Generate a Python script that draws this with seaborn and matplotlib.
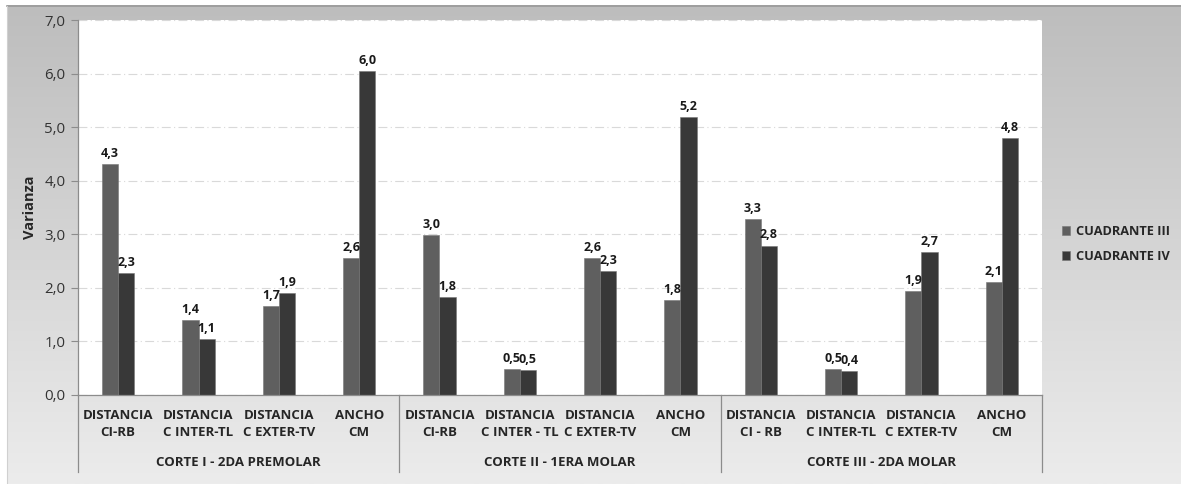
import numpy as np
import pandas as pd
import matplotlib
matplotlib.use("Agg")
import matplotlib.pyplot as plt
import matplotlib.transforms as mtransforms
from matplotlib.ticker import FuncFormatter
import seaborn as sns

# Corte groups and the measurements taken in each one
cortes = ["CORTE I - 2DA PREMOLAR", "CORTE II - 1ERA MOLAR", "CORTE III - 2DA MOLAR"]
medidas = [
    ["DISTANCIA\nCI-RB", "DISTANCIA\nC INTER-TL", "DISTANCIA\nC EXTER-TV", "ANCHO\nCM"],
    ["DISTANCIA\nCI-RB", "DISTANCIA\nC INTER - TL", "DISTANCIA\nC EXTER-TV", "ANCHO\nCM"],
    ["DISTANCIA\nCI - RB", "DISTANCIA\nC INTER-TL", "DISTANCIA\nC EXTER-TV", "ANCHO\nCM"],
]
cuadrantes = ["CUADRANTE III", "CUADRANTE IV"]

# Variance per measurement (in corte order)
cuadrante_iii = [4.31, 1.40, 1.66, 2.56, 2.98, 0.48, 2.56, 1.77, 3.28, 0.48, 1.94, 2.11]
cuadrante_iv = [2.28, 1.05, 1.90, 6.04, 1.83, 0.46, 2.31, 5.19, 2.79, 0.44, 2.67, 4.79]

colores = ["#5f5f5f", "#383838"]

# Long table for seaborn
keys = [f"{c}|{m}" for c, ms in zip(cortes, medidas) for m in ms]
df = pd.DataFrame({
    "key": keys * 2,
    "cuadrante": [cuadrantes[0]] * len(keys) + [cuadrantes[1]] * len(keys),
    "varianza": cuadrante_iii + cuadrante_iv,
})

font = "Open Sans"
plt.rcParams["font.family"] = [font, "DejaVu Sans"]

W, H = 1181, 484
fig = plt.figure(figsize=(W / 100, H / 100), dpi=100, facecolor="white")

# Chart frame: grey vertical gradient behind everything
bg = fig.add_axes([0, 0, 1, 1], zorder=0)
bg.set_xlim(0, W)
bg.set_ylim(H, 0)
bg.axis("off")
grad = np.linspace(0, 1, 256).reshape(-1, 1)
cmap = matplotlib.colors.LinearSegmentedColormap.from_list("g", ["#bdbdbd", "#ececec"])
bg.imshow(grad, cmap=cmap, aspect="auto", extent=(7, W, H, 5), interpolation="bilinear")
bg.plot([7, W], [5.5, 5.5], color="#9a9a9a", lw=1.2)
bg.plot([7, 7], [5.5, H], color="#d0d0d0", lw=0.8)

px_l, px_r, px_t, px_b = 78, 1042, 20, 395
ax = fig.add_axes([px_l / W, (H - px_b) / H, (px_r - px_l) / W, (px_b - px_t) / H], zorder=1)
ax.set_facecolor("white")

sns.barplot(data=df, x="key", y="varianza", hue="cuadrante", order=keys,
            hue_order=cuadrantes, palette=colores, width=0.4, saturation=1,
            edgecolor="#777777", linewidth=0.4, ax=ax, legend=True)

ax.set_ylim(0, 7)
ax.set_xlim(-0.5, len(keys) - 0.5)
ax.set_yticks(np.arange(0, 8, 1))
ax.yaxis.set_major_formatter(FuncFormatter(lambda v, p: f"{v:.1f}".replace(".", ",")))
ax.tick_params(axis="y", labelsize=10.8, labelcolor="#333333", color="#8c8c8c",
               length=5, width=0.8, pad=4)
ax.grid(axis="y", color="#d9d9d9", linestyle=(0, (8, 3, 1, 3)), linewidth=0.8)
ax.set_axisbelow(True)

for side in ["top", "right"]:
    ax.spines[side].set_visible(False)
ax.spines["left"].set_color("#8c8c8c")
ax.spines["bottom"].set_color("#8c8c8c")
ax.spines["left"].set_linewidth(0.9)
ax.spines["bottom"].set_linewidth(0.9)

ax.set_xlabel("")
ax.set_ylabel("Varianza", fontsize=10.5, fontweight="bold", color="#262626", labelpad=5)

# Inner category labels
ax.set_xticks(range(len(keys)))
ax.set_xticklabels([m for ms in medidas for m in ms], fontsize=9.5, fontweight="bold",
                   color="#262626", linespacing=1.45)
ax.tick_params(axis="x", length=0, pad=10)

# Group separators and outer labels
trans = mtransforms.blended_transform_factory(ax.transData, ax.transAxes)
depth = (472 - px_b) / (px_b - px_t)
for xb in [-0.5, 3.5, 7.5, 11.5]:
    ax.plot([xb, xb], [0, -depth], transform=trans, color="#8c8c8c", lw=0.9, clip_on=False)
for i, c in enumerate(cortes):
    ax.text(i * 4 + 1.5, -(463 - px_b) / (px_b - px_t), c, transform=trans,
            ha="center", va="center", fontsize=9.5, fontweight="bold", color="#262626")

# Value labels above each bar
for cont in ax.containers:
    ax.bar_label(cont, fmt=lambda v: f"{v:.1f}".replace(".", ","), padding=3,
                 fontsize=9, fontweight="bold", color="#1a1a1a")

# Legend at the right side of the frame
handles, labels = ax.get_legend_handles_labels()
ax.get_legend().remove()
leg = fig.legend(handles, labels, loc="center left",
                 bbox_to_anchor=(1050 / W, 1 - 244 / H), frameon=False,
                 handlelength=0.7, handleheight=0.7, handletextpad=0.4,
                 labelspacing=1.0, prop={"weight": "bold", "size": 9.2})
for t in leg.get_texts():
    t.set_color("#262626")

fig.savefig("out.png", dpi=100, facecolor="white")
